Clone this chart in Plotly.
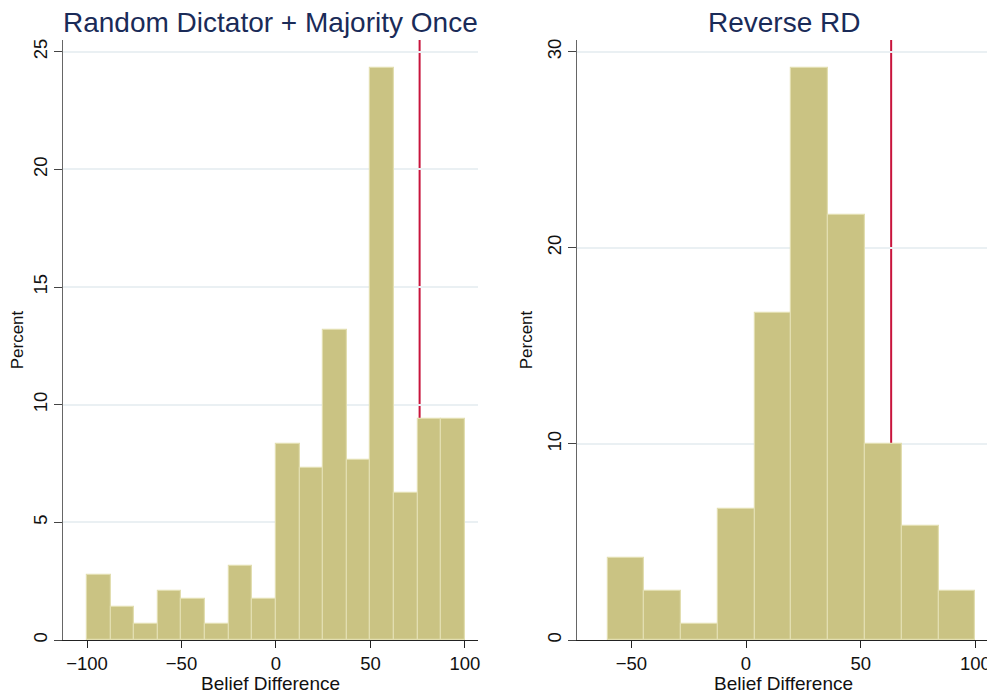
import plotly.graph_objects as go
from plotly.subplots import make_subplots

# Left panel: Random Dictator + Majority Once
left_bin_start = -100.0
left_bin_width = 12.5
left_percent = [2.78, 1.39, 0.69, 2.08, 1.74, 0.69, 3.13, 1.74,
                8.33, 7.29, 13.19, 7.64, 24.31, 6.25, 9.38, 9.38]
left_marker = 76.0

# Right panel: Reverse RD
right_bin_start = -60.4
right_bin_width = 16.04
right_percent = [4.17, 2.50, 0.83, 6.67, 16.67, 29.17, 21.67, 10.00, 5.83, 2.50]
right_marker = 63.3

titles = ["Random Dictator + Majority Once", "Reverse RD"]
x_label = "Belief Difference"
y_label = "Percent"
left_yticks = [0, 5, 10, 15, 20, 25]
right_yticks = [0, 10, 20, 30]
xticks_left = [-100, -50, 0, 50, 100]
xticks_right = [-50, 0, 50, 100]

BAR = "#cac383"
BAR_LINE = "#e2deb0"
RED = "#c8143c"
GRID = "#eaf0f3"
NAVY = "#1a2b58"
FONT = "Liberation Sans, Arial, sans-serif"

# page body has an 8px margin, so the figure is laid out 8px smaller
W, H = 987, 686

fig = make_subplots(rows=1, cols=2)

def centers(start, width, n):
    return [start + width * (i + 0.5) for i in range(n)]

panels = [
    (left_bin_start, left_bin_width, left_percent, left_marker, 1),
    (right_bin_start, right_bin_width, right_percent, right_marker, 2),
]
for start, width, vals, marker, col in panels:
    fig.add_trace(go.Bar(
        x=centers(start, width, len(vals)), y=vals, width=width,
        marker=dict(color=BAR, line=dict(color=BAR_LINE, width=1.2)),
        showlegend=False, hoverinfo="x+y"), row=1, col=col)
    fig.add_vline(x=marker, line=dict(color=RED, width=2), layer="below",
                  row=1, col=col)

xdom = [[55/W, 470/W], [569/W, 982/W]]
ydom = [54/H, 654/H]
xranges = [[-112.7, 106.9], [-73.7, 106.4]]
yranges = [[0, 25.5], [0, 30.6]]
yticks = [left_yticks, right_yticks]
xticks = [xticks_left, xticks_right]

for i in range(2):
    xa = "xaxis" if i == 0 else "xaxis2"
    ya = "yaxis" if i == 0 else "yaxis2"
    fig.layout[xa].update(
        domain=xdom[i], range=xranges[i], tickvals=xticks[i],
        showgrid=False, zeroline=False, showline=True, linecolor="#222",
        linewidth=1.2, ticks="outside", ticklen=7, tickcolor="#222",
        automargin=False,
        tickfont=dict(family=FONT, size=18.5, color="#111"),
        title=dict(text=x_label, font=dict(family=FONT, size=19, color="#111"),
                   standoff=0))
    fig.layout[ya].update(
        domain=ydom, range=yranges[i], tickvals=yticks[i],
        showgrid=True, gridcolor=GRID, gridwidth=1.5, zeroline=False,
        showline=True, linecolor="#666", linewidth=1.2, ticks="outside",
        ticklen=8, tickcolor="#444", tickangle=-90, automargin=False,
        tickfont=dict(family=FONT, size=18.5, color="#111"),
        title=dict(text=y_label, font=dict(family=FONT, size=17, color="#111"),
                   standoff=6))

for i, t in enumerate(titles):
    cx = (xdom[i][0] + xdom[i][1]) / 2
    fig.add_annotation(text=t, x=cx, y=1.0, xref="paper", yref="paper",
                       yanchor="top", xanchor="center", showarrow=False,
                       yshift=2, borderpad=0,
                       font=dict(family=FONT, size=28, color=NAVY))

fig.update_layout(
    width=W, height=H, margin=dict(l=0, r=0, t=0, b=0),
    paper_bgcolor="white", plot_bgcolor="white", bargap=0,
)

fig.write_html("out.html")
